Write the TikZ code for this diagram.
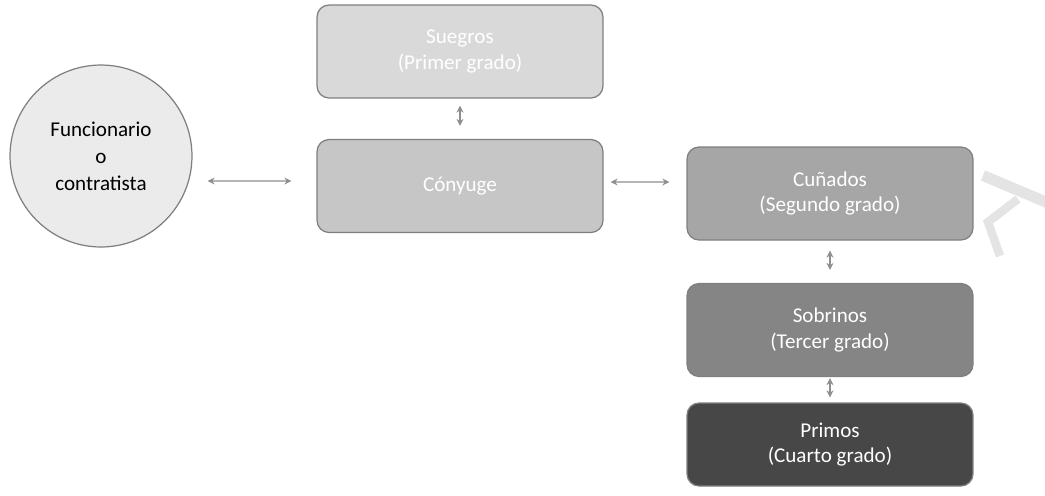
\documentclass[tikz,border=0pt]{standalone}
\usepackage{fontspec}
\setmainfont{Carlito}
\usepackage{xcolor}
\usepackage{tikz}
\usetikzlibrary{arrows.meta}
\definecolor{edge}{HTML}{7F7F7F}
\definecolor{link}{HTML}{8E8E8E}
\definecolor{mark}{HTML}{E4E4E4}
\definecolor{fillA}{HTML}{EBEBEB}
\definecolor{fillB}{HTML}{D9D9D9}
\definecolor{fillC}{HTML}{C6C6C6}
\definecolor{fillD}{HTML}{A6A6A6}
\definecolor{fillE}{HTML}{858585}
\definecolor{fillF}{HTML}{474747}
\tikzset{
  kin/.style={draw=edge, line width=0.7pt, rounded corners=0.24cm, align=center,
    text=white, font=\fontsize{12}{14.5}\selectfont,
    minimum width=5.72cm, minimum height=1.86cm, inner sep=0pt},
  self/.style={circle, draw=edge, line width=0.7pt, fill=fillA, align=center,
    font=\fontsize{12}{15.3}\selectfont, minimum size=3.64cm, inner sep=0pt},
  link/.style={draw=link, line width=0.8pt, {Stealth[length=4pt,width=4pt]}-{Stealth[length=4pt,width=4pt]}},
  wm/.style={draw=mark, line cap=butt, line join=miter},
}

\begin{document}
\begin{tikzpicture}[x=0.02cm,y=-0.02cm]
  \clip (0,0) rectangle (1045,495);

  % watermark fragment
  \draw[wm, line width=0.22cm] (983,175.5) -- (1060,208);
  \draw[wm, line width=0.17cm] (1018,199) -- (988,222) -- (1000,256);

  \node[self] (func) at (101,156) {Funcionario\\o\\contratista};

  \node[kin, fill=fillB] (sueg) at (460,51.5) {Suegros\\(Primer grado)};
  \node[kin, fill=fillC] (cony) at (460,186) {Cónyuge};
  \node[kin, fill=fillD] (cuna) at (830,193.5) {Cuñados\\(Segundo grado)};
  \node[kin, fill=fillE] (sobr) at (830,330) {Sobrinos\\(Tercer grado)};
  \node[kin, fill=fillF, minimum height=1.66cm] (prim) at (830,444.5) {Primos\\(Cuarto grado)};

  \draw[link, shorten <=0.3cm, shorten >=0.5cm] ([yshift=-0.5cm]func.east) -- ([yshift=0.1cm]cony.west);
  \draw[link, shorten <=0.14cm, shorten >=0.34cm] ([yshift=0.08cm]cony.east) -- ([yshift=0.23cm]cuna.west);
  \draw[link, shorten <=0.14cm, shorten >=0.26cm] (sueg) -- (cony);
  \draw[link, shorten <=0.2cm, shorten >=0.26cm] (cuna) -- (sobr);
  \draw[link, shorten <=0.02cm, shorten >=0.1cm] (sobr) -- (prim);
\end{tikzpicture}
\end{document}
